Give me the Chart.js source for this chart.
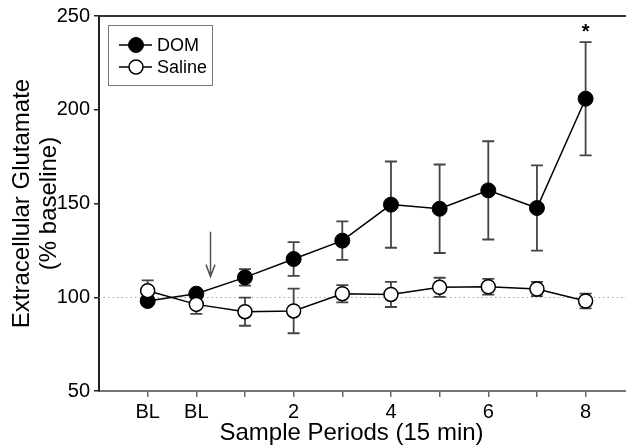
<!DOCTYPE html>
<html>
<head>
<meta charset="utf-8">
<script src="https://cdn.jsdelivr.net/npm/chart.js@4.4.1/dist/chart.umd.min.js"></script>
<style>
    body { margin: 0; background: #fff; }
    #wrap { width: 626px; height: 446px; }
</style>
</head>
<body>
<div id="wrap"><canvas id="grafico" width="626" height="446"></canvas></div>
<script>
// valores
var xLabels = ['BL', 'BL', '', '2', '', '4', '', '6', '', '8'];
var domMedia = [98.0, 101.9, 110.6, 120.4, 130.2, 149.4, 147.2, 157.0, 147.6, 205.9];
var domErro = [2.0, 2.0, 4.4, 9.0, 10.3, 23.0, 23.6, 26.2, 22.7, 30.2];
var salinaMedia = [103.5, 96.2, 92.3, 92.7, 101.9, 101.5, 105.3, 105.6, 104.4, 98.0];
var salinaErro = [5.5, 5.1, 7.5, 11.9, 4.6, 6.7, 5.1, 4.2, 3.8, 3.9];
var yTicks = [50, 100, 150, 200, 250];
var linhaBase = 100;
var asteriscos = [9];           // indices com diferenca significativa
var seta = { x: 1.28, de: 135, ate: 111 };  // seta da injecao

var fonte = "'Liberation Sans', Arial, sans-serif";

function pontos(medias) {
    var lista = [];
    for (var i = 0; i < medias.length; i++) {
        lista.push({ x: i, y: medias[i] });
    }
    return lista;
}

var dados = {
    datasets: [
        {
            label: 'DOM',
            data: pontos(domMedia),
            erros: domErro,
            borderColor: '#000',
            backgroundColor: '#000',
            borderWidth: 1.5,
            pointRadius: 7.5,
            pointBackgroundColor: '#000',
            pointBorderColor: '#000',
            pointBorderWidth: 1,
            order: 1
        },
        {
            label: 'Saline',
            data: pontos(salinaMedia),
            erros: salinaErro,
            borderColor: '#000',
            backgroundColor: '#fff',
            borderWidth: 1.5,
            pointRadius: 7,
            pointBackgroundColor: '#fff',
            pointBorderColor: '#000',
            pointBorderWidth: 1.5,
            order: 0
        }
    ]
};

// linha pontilhada em 100% e barras de erro (atras dos marcadores)
var pluginFundo = {
    id: 'fundo',
    beforeDatasetsDraw: function (chart) {
        var ctx = chart.ctx;
        var area = chart.chartArea;
        var y = chart.scales.y;
        ctx.save();
        ctx.strokeStyle = '#aaa';
        ctx.lineWidth = 1;
        ctx.setLineDash([1.5, 3]);
        var yb = Math.round(y.getPixelForValue(linhaBase)) + 0.5;
        ctx.beginPath();
        ctx.moveTo(area.left, yb);
        ctx.lineTo(area.right, yb);
        ctx.stroke();
        ctx.setLineDash([]);

        ctx.strokeStyle = '#444';
        ctx.lineWidth = 1.8;
        chart.data.datasets.forEach(function (ds, d) {
            var meta = chart.getDatasetMeta(d);
            meta.data.forEach(function (p, i) {
                var topo = y.getPixelForValue(ds.data[i].y + ds.erros[i]);
                var base = y.getPixelForValue(ds.data[i].y - ds.erros[i]);
                ctx.beginPath();
                ctx.moveTo(p.x, topo);
                ctx.lineTo(p.x, base);
                ctx.moveTo(p.x - 6, topo);
                ctx.lineTo(p.x + 6, topo);
                ctx.moveTo(p.x - 6, base);
                ctx.lineTo(p.x + 6, base);
                ctx.stroke();
            });
        });
        ctx.restore();
    }
};

// legenda, seta, asterisco, linha de cima e titulo do eixo x
var pluginExtras = {
    id: 'extras',
    afterDraw: function (chart) {
        var ctx = chart.ctx;
        var area = chart.chartArea;
        var x = chart.scales.x;
        var y = chart.scales.y;
        ctx.save();

        // linha superior
        ctx.strokeStyle = '#333';
        ctx.lineWidth = 2;
        ctx.beginPath();
        ctx.moveTo(area.left, area.top);
        ctx.lineTo(area.right, area.top);
        ctx.stroke();

        // seta
        var sx = Math.round(x.getPixelForValue(seta.x)) + 0.5;
        var s1 = y.getPixelForValue(seta.de);
        var s2 = y.getPixelForValue(seta.ate);
        ctx.strokeStyle = '#555';
        ctx.lineWidth = 1.5;
        ctx.beginPath();
        ctx.moveTo(sx, s1);
        ctx.lineTo(sx, s2);
        ctx.moveTo(sx - 4.5, s2 - 12);
        ctx.lineTo(sx, s2);
        ctx.lineTo(sx + 4.5, s2 - 12);
        ctx.stroke();

        // asterisco
        ctx.fillStyle = '#000';
        ctx.font = 'bold 20px ' + fonte;
        ctx.textAlign = 'center';
        ctx.textBaseline = 'alphabetic';
        asteriscos.forEach(function (i) {
            var px = x.getPixelForValue(i);
            var py = y.getPixelForValue(domMedia[i] + domErro[i]);
            ctx.fillText('*', px, py - 4);
        });

        // legenda
        var lx = area.left + 9, ly = area.top + 9;
        ctx.strokeStyle = '#777';
        ctx.lineWidth = 1;
        ctx.strokeRect(lx + 0.5, ly + 0.5, 104, 60);
        ctx.font = '18px ' + fonte;
        ctx.textAlign = 'left';
        ctx.textBaseline = 'middle';
        chart.data.datasets.forEach(function (ds, d) {
            var cy = ly + 20 + d * 22;
            ctx.strokeStyle = '#000';
            ctx.lineWidth = 1.5;
            ctx.beginPath();
            ctx.moveTo(lx + 11, cy);
            ctx.lineTo(lx + 44, cy);
            ctx.stroke();
            ctx.beginPath();
            ctx.arc(lx + 28, cy, ds.pointRadius, 0, Math.PI * 2);
            ctx.fillStyle = ds.pointBackgroundColor;
            ctx.fill();
            ctx.lineWidth = ds.pointBorderWidth;
            ctx.stroke();
            ctx.fillStyle = '#000';
            ctx.fillText(ds.label, lx + 49, cy + 1);
        });

        // titulo do eixo x
        ctx.font = '24px ' + fonte;
        ctx.textAlign = 'center';
        ctx.fillText('Sample Periods (15 min)', (area.left + area.right) / 2 - 11, 433);
        ctx.restore();
    }
};

var config = {
    type: 'line',
    data: dados,
    plugins: [pluginFundo, pluginExtras],
    options: {
        responsive: false,
        animation: false,
        devicePixelRatio: 1,
        layout: {
            autoPadding: false,
            padding: { top: 16, right: 0, left: 0, bottom: 0 }
        },
        plugins: {
            legend: { display: false },
            tooltip: { enabled: false }
        },
        scales: {
            x: {
                type: 'linear',
                min: -1,
                max: 9.83,
                afterFit: function (scale) {
                    scale.height = 55;
                    scale.paddingRight = 0;
                    scale.paddingLeft = 0;
                },
                afterBuildTicks: function (scale) {
                    scale.ticks = xLabels.map(function (t, i) { return { value: i }; });
                },
                ticks: {
                    autoSkip: false,
                    maxRotation: 0,
                    padding: 3,
                    color: '#000',
                    font: { family: fonte, size: 20 },
                    callback: function (v) { return xLabels[v]; }
                },
                grid: {
                    drawOnChartArea: false,
                    tickLength: 6,
                    color: '#666',
                    lineWidth: 1.5
                },
                border: { color: '#777', width: 2 }
            },
            y: {
                min: 50,
                max: 250,
                afterFit: function (scale) { scale.width = 99; },
                afterBuildTicks: function (scale) {
                    scale.ticks = yTicks.map(function (v) { return { value: v }; });
                },
                ticks: {
                    padding: 4,
                    color: '#000',
                    font: { family: fonte, size: 20 }
                },
                grid: {
                    drawOnChartArea: false,
                    tickLength: 5,
                    color: '#222',
                    lineWidth: 1.5
                },
                border: { color: '#222', width: 2 },
                title: {
                    display: true,
                    text: ['Extracellular Glutamate', '(% baseline)'],
                    color: '#000',
                    font: { family: fonte, size: 24, lineHeight: 1.12 },
                    padding: { top: 9, bottom: 0 }
                }
            }
        }
    }
};

var meuGrafico = new Chart(document.getElementById('grafico'), config);
</script>
</body>
</html>
